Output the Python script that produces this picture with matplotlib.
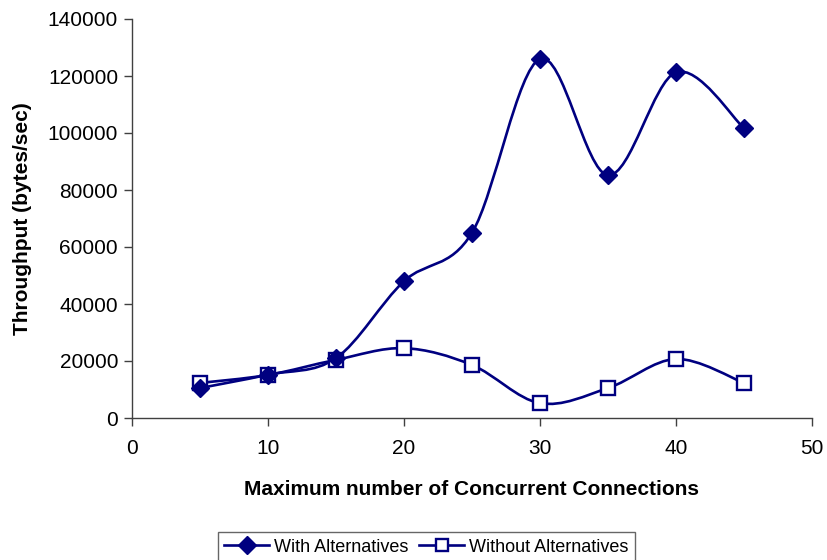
import matplotlib
matplotlib.use("Agg")
import matplotlib.pyplot as plt
from matplotlib.path import Path
from matplotlib.patches import PathPatch
from matplotlib.lines import Line2D
import numpy as np

plt.rcParams['font.family'] = ['Liberation Sans', 'DejaVu Sans']

connections = [5, 10, 15, 20, 25, 30, 35, 40, 45]
with_alt = [10500, 15200, 21000, 48000, 65000, 126000, 85200, 121300, 101700]
without_alt = [12300, 15100, 20400, 24500, 18600, 5200, 10500, 20700, 12300]

x_ticks = [0, 10, 20, 30, 40, 50]
y_ticks = [0, 20000, 40000, 60000, 80000, 100000, 120000, 140000]

NAVY = '#000080'

fig = plt.figure(figsize=(8.27, 5.6), dpi=100)
ax = fig.add_axes([132/827, 1-418/560, 680/827, 399/560])


def smooth_path(xs, ys):
    pts = np.column_stack([xs, ys]).astype(float)
    n = len(pts)
    verts = [pts[0]]
    codes = [Path.MOVETO]
    for i in range(n - 1):
        p0 = pts[i - 1] if i > 0 else pts[i]
        p1 = pts[i]
        p2 = pts[i + 1]
        p3 = pts[i + 2] if i + 2 < n else pts[i + 1]
        c1 = p1 + (p2 - p0) / 6.0
        c2 = p2 - (p3 - p1) / 6.0
        verts += [c1, c2, p2]
        codes += [Path.CURVE4] * 3
    return Path(verts, codes)


for ys in (without_alt, with_alt):
    patch = PathPatch(smooth_path(connections, ys), facecolor='none',
                      edgecolor=NAVY, lw=1.9, zorder=2)
    ax.add_patch(patch)

ax.plot(connections, without_alt, linestyle='none', marker='s', ms=10.5,
        markerfacecolor='white', markeredgecolor=NAVY, mew=1.7, zorder=3)
ax.plot(connections, with_alt, linestyle='none', marker='D', ms=9,
        color=NAVY, zorder=4)

ax.set_xlim(0, 50)
ax.set_ylim(0, 140000)
ax.set_xticks(x_ticks)
ax.set_yticks(y_ticks)
ax.tick_params(direction='out', length=6, width=1, labelsize=15,
               color='#404040')
ax.tick_params(axis='x', pad=9)
ax.tick_params(axis='y', pad=4)
for s in ('top', 'right'):
    ax.spines[s].set_visible(False)
for s in ('left', 'bottom'):
    ax.spines[s].set_color('#404040')
    ax.spines[s].set_linewidth(1)

ax.set_xlabel('Maximum number of Concurrent Connections', fontsize=15,
              fontweight='bold', labelpad=16)
ax.set_ylabel('Throughput (bytes/sec)', fontsize=15, fontweight='bold',
              labelpad=11)

handles = [
    Line2D([], [], color=NAVY, lw=1.9, marker='D', ms=9),
    Line2D([], [], color=NAVY, lw=1.9, marker='s', ms=9,
           markerfacecolor='white', mew=1.7),
]
leg = fig.legend(handles, ['With Alternatives', 'Without Alternatives'],
                 loc='lower left', bbox_to_anchor=(218/827, -2/560),
                 ncol=2, fontsize=13,
                 frameon=True, fancybox=False,
                 handlelength=2.5, handletextpad=0.25, columnspacing=0.6,
                 borderpad=0.35, borderaxespad=0)
leg.get_frame().set_edgecolor('#404040')
leg.get_frame().set_linewidth(1)

fig.savefig('out.png', dpi=100)
